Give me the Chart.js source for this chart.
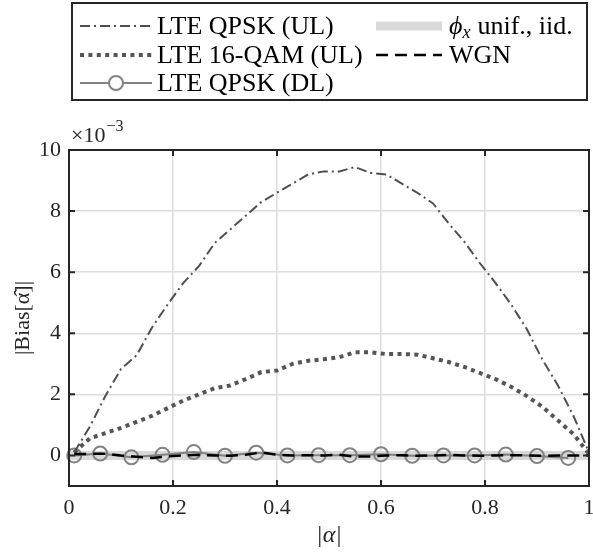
<!DOCTYPE html>
<html>
<head>
<meta charset="utf-8">
<script src="https://cdn.jsdelivr.net/npm/chart.js@4.4.1/dist/chart.umd.min.js"></script>
<style>
  html, body { margin: 0; padding: 0; background: #fff; }
  #wrap { width: 593px; height: 552px; position: relative; }
</style>
</head>
<body>
<div id="wrap"><canvas id="biasChart" width="593" height="552"></canvas></div>
<script>
// Data (values in units of 1e-3)
const alphaGrid = [0.01, 0.04, 0.07, 0.10, 0.13, 0.16, 0.19, 0.22, 0.25, 0.28, 0.31, 0.34,
  0.37, 0.40, 0.43, 0.46, 0.49, 0.52, 0.55, 0.58, 0.61, 0.64, 0.67, 0.70, 0.73, 0.76,
  0.79, 0.82, 0.85, 0.88, 0.91, 0.94, 0.97, 1.00];
const qpskUL = [0.1, 0.94, 1.95, 2.83, 3.28, 4.2, 4.95, 5.65, 6.2, 6.95, 7.4, 7.85,
  8.3, 8.6, 8.9, 9.2, 9.3, 9.3, 9.44, 9.25, 9.2, 8.9, 8.6, 8.25, 7.6, 7.0,
  6.3, 5.65, 4.95, 4.15, 3.15, 2.3, 1.3, 0.1];
const qam16UL = [0.1, 0.56, 0.73, 0.9, 1.1, 1.3, 1.55, 1.8, 2.0, 2.2, 2.29, 2.5,
  2.73, 2.78, 3.0, 3.1, 3.15, 3.22, 3.38, 3.38, 3.32, 3.32, 3.3, 3.18, 3.06, 2.9,
  2.7, 2.5, 2.25, 1.95, 1.6, 1.15, 0.7, 0.05];
const wgn = [0.05, 0.05, 0.06, 0.0, -0.04, -0.08, -0.03, 0.0, 0.02, 0.0, -0.01, 0.02,
  0.1, 0.02, 0.0, 0.01, 0.0, 0.02, -0.04, -0.03, 0.0, 0.01, -0.01, 0.0, 0.02, 0.0,
  -0.01, 0.0, 0.01, 0.0, -0.01, 0.0, 0.0, 0.0];
const alphaDL = [0.01, 0.06, 0.12, 0.18, 0.24, 0.30, 0.36, 0.42, 0.48, 0.54, 0.60,
  0.66, 0.72, 0.78, 0.84, 0.90, 0.96];
const qpskDL = [0.0, 0.06, -0.06, 0.02, 0.11, -0.01, 0.09, 0.0, 0.01, 0.01, 0.04,
  -0.01, 0.0, 0.0, 0.03, -0.02, -0.08];
const alphaUnif = [0, 1];
const unifIid = [0, 0];

const xTicks = [0, 0.2, 0.4, 0.6, 0.8, 1];
const yTicks = [0, 2, 4, 6, 8, 10];

const SERIF = '"Liberation Serif", "DejaVu Serif", serif';
const AXIS_COLOR = '#262626';

function toPoints(xs, ys) {
  return xs.map((x, i) => ({ x: x, y: ys[i] }));
}

// Styles per series (also used to draw the legend)
const styles = {
  qpskUL: { color: '#4f4f4f', width: 2, dash: [10, 4, 2, 4] },
  qam16UL: { color: '#555555', width: 4, dash: [4, 4.4] },
  qpskDL: { color: '#828282', width: 2, dash: [], marker: 7 },
  unif: { color: '#d9d9d9', width: 9, dash: [] },
  wgn: { color: '#000000', width: 2.5, dash: [12, 7] }
};

const legendLeft = [
  { key: 'qpskUL', label: 'LTE QPSK (UL)' },
  { key: 'qam16UL', label: 'LTE 16-QAM (UL)' },
  { key: 'qpskDL', label: 'LTE QPSK (DL)' }
];
const legendRight = [
  { key: 'unif', label: 'unif., iid.' },
  { key: 'wgn', label: 'WGN' }
];

function drawSample(ctx, s, x0, x1, y) {
  ctx.save();
  ctx.strokeStyle = s.color;
  ctx.lineWidth = s.width;
  ctx.setLineDash(s.dash);
  ctx.lineCap = 'butt';
  ctx.beginPath();
  ctx.moveTo(x0, y);
  ctx.lineTo(x1, y);
  ctx.stroke();
  if (s.marker) {
    ctx.setLineDash([]);
    ctx.fillStyle = '#fff';
    ctx.beginPath();
    ctx.arc((x0 + x1) / 2, y, s.marker, 0, Math.PI * 2);
    ctx.fill();
    ctx.stroke();
  }
  ctx.restore();
}

const decorations = {
  id: 'decorations',
  afterDraw(chart) {
    const ctx = chart.ctx;
    const a = chart.chartArea;
    const xs = chart.scales.x;
    const ys = chart.scales.y;

    ctx.save();
    // Axes box
    ctx.strokeStyle = AXIS_COLOR;
    ctx.lineWidth = 2;
    ctx.strokeRect(a.left, a.top, a.right - a.left, a.bottom - a.top);

    // Inward ticks on all four sides
    const tl = 6;
    ctx.beginPath();
    xTicks.forEach(v => {
      const px = xs.getPixelForValue(v);
      ctx.moveTo(px, a.bottom); ctx.lineTo(px, a.bottom - tl);
      ctx.moveTo(px, a.top); ctx.lineTo(px, a.top + tl);
    });
    yTicks.forEach(v => {
      const py = ys.getPixelForValue(v);
      ctx.moveTo(a.left, py); ctx.lineTo(a.left + tl, py);
      ctx.moveTo(a.right, py); ctx.lineTo(a.right - tl, py);
    });
    ctx.stroke();

    // Exponent label
    ctx.fillStyle = AXIS_COLOR;
    ctx.textBaseline = 'alphabetic';
    ctx.textAlign = 'left';
    ctx.font = '22px ' + SERIF;
    ctx.fillText('\u00d710', a.left + 2, a.top - 8);
    const w = ctx.measureText('\u00d710').width;
    ctx.font = '16px ' + SERIF;
    ctx.fillText('\u22123', a.left + 3 + w, a.top - 19);

    // Legend box
    const box = { left: 72, top: 3, right: 587, bottom: 100 };
    ctx.fillStyle = '#fff';
    ctx.fillRect(box.left, box.top, box.right - box.left, box.bottom - box.top);
    ctx.strokeStyle = AXIS_COLOR;
    ctx.lineWidth = 2;
    ctx.strokeRect(box.left, box.top, box.right - box.left, box.bottom - box.top);

    const rowY = [26, 55, 83];
    ctx.fillStyle = '#000';
    ctx.textBaseline = 'middle';
    legendLeft.forEach((item, i) => {
      drawSample(ctx, styles[item.key], 80, 152, rowY[i]);
      ctx.font = '26px ' + SERIF;
      ctx.fillText(item.label, 157, rowY[i] + 1);
    });
    legendRight.forEach((item, i) => {
      drawSample(ctx, styles[item.key], 376, 442, rowY[i]);
      let tx = 449;
      if (item.key === 'unif') {
        ctx.font = 'italic 26px ' + SERIF;
        ctx.fillText('\u03d5', tx, rowY[i] + 1);
        tx += ctx.measureText('\u03d5').width;
        ctx.font = 'italic 18px ' + SERIF;
        ctx.fillText('x', tx, rowY[i] + 7);
        tx += ctx.measureText('x').width + 7;
      }
      ctx.font = '26px ' + SERIF;
      ctx.fillText(item.label, tx, rowY[i] + 1);
    });
    ctx.restore();
  }
};

const datasets = [
  {
    label: 'WGN',
    data: toPoints(alphaGrid, wgn),
    borderColor: styles.wgn.color,
    borderWidth: styles.wgn.width,
    borderDash: styles.wgn.dash,
    pointRadius: 0
  },
  {
    label: 'LTE QPSK (UL)',
    data: toPoints(alphaGrid, qpskUL),
    borderColor: styles.qpskUL.color,
    borderWidth: styles.qpskUL.width,
    borderDash: styles.qpskUL.dash,
    pointRadius: 0
  },
  {
    label: 'LTE 16-QAM (UL)',
    data: toPoints(alphaGrid, qam16UL),
    borderColor: styles.qam16UL.color,
    borderWidth: styles.qam16UL.width,
    borderDash: styles.qam16UL.dash,
    borderCapStyle: 'butt',
    pointRadius: 0
  },
  {
    label: 'LTE QPSK (DL)',
    data: toPoints(alphaDL, qpskDL),
    borderColor: styles.qpskDL.color,
    borderWidth: styles.qpskDL.width,
    pointRadius: styles.qpskDL.marker,
    pointBorderColor: styles.qpskDL.color,
    pointBorderWidth: 2,
    pointBackgroundColor: 'rgba(0,0,0,0)',
    clip: false
  },
  {
    label: '\u03d5x unif., iid.',
    data: toPoints(alphaUnif, unifIid),
    borderColor: styles.unif.color,
    borderWidth: styles.unif.width,
    pointRadius: 0
  }
];

new Chart(document.getElementById('biasChart'), {
  type: 'line',
  data: { datasets: datasets },
  options: {
    responsive: false,
    animation: false,
    events: [],
    layout: { autoPadding: false, padding: { top: 150, right: 4, left: 0, bottom: 0 } },
    elements: { line: { tension: 0 } },
    plugins: { legend: { display: false }, tooltip: { enabled: false } },
    scales: {
      x: {
        type: 'linear',
        min: 0,
        max: 1,
        afterBuildTicks: s => { s.ticks = xTicks.map(v => ({ value: v })); },
        afterFit: s => { s.height = 66; s.paddingLeft = 0; s.paddingRight = 0; },
        grid: { color: '#dedede', lineWidth: 1.5, drawTicks: false },
        border: { display: false },
        ticks: {
          padding: 9,
          color: AXIS_COLOR,
          font: { family: SERIF, size: 22 },
          maxRotation: 0,
          callback: v => String(v)
        },
        title: {
          display: true,
          text: '|\u03b1|',
          color: AXIS_COLOR,
          font: { family: SERIF, size: 24, style: 'italic' },
          padding: { top: 0, bottom: 2 }
        }
      },
      y: {
        type: 'linear',
        min: -1,
        max: 10,
        afterBuildTicks: s => { s.ticks = yTicks.map(v => ({ value: v })); },
        afterFit: s => { s.width = 69; s.paddingTop = 0; s.paddingBottom = 0; },
        grid: { color: '#dedede', lineWidth: 1.5, drawTicks: false },
        border: { display: false },
        ticks: {
          padding: 8,
          color: AXIS_COLOR,
          font: { family: SERIF, size: 22 },
          callback: v => String(v)
        },
        title: {
          display: true,
          text: '|Bias[\u03b1\u0302]|',
          color: AXIS_COLOR,
          font: { family: SERIF, size: 22 },
          padding: { top: 10, bottom: 0 }
        }
      }
    }
  },
  plugins: [decorations]
});
</script>
</body>
</html>
